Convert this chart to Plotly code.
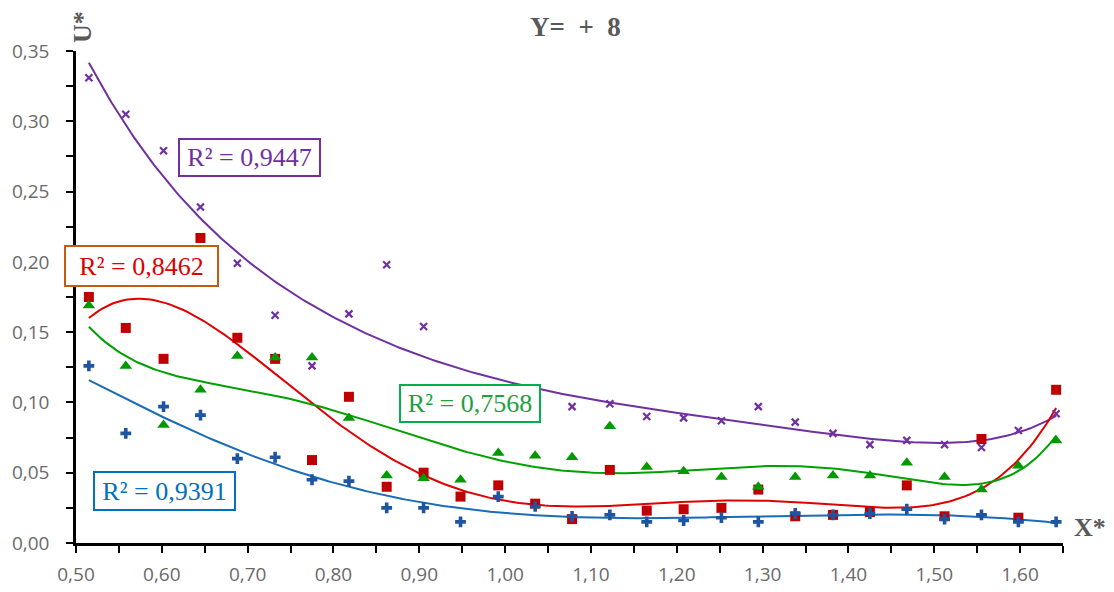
import numpy as np
import plotly.graph_objects as go

x_vals = [0.515, 0.558, 0.602, 0.645, 0.688, 0.732, 0.775, 0.818, 0.862, 0.905,
          0.948, 0.992, 1.035, 1.078, 1.122, 1.165, 1.208, 1.252, 1.295, 1.338,
          1.382, 1.425, 1.468, 1.512, 1.555, 1.598, 1.642]

purple_vals = [0.331, 0.305, 0.279, 0.239, 0.199, 0.162, 0.126, 0.163, 0.198, 0.154,
               0.110, 0.108, 0.104, 0.097, 0.099, 0.090, 0.089, 0.087, 0.097, 0.086,
               0.078, 0.070, 0.073, 0.070, 0.068, 0.080, 0.092]

red_vals = [0.175, 0.153, 0.131, 0.217, 0.146, 0.131, 0.059, 0.104, 0.040, 0.050,
            0.033, 0.041, 0.028, 0.017, 0.052, 0.023, 0.024, 0.025, 0.038, 0.019,
            0.020, 0.022, 0.041, 0.019, 0.074, 0.018, 0.109]

green_vals = [0.169, 0.126, 0.084, 0.109, 0.133, 0.132, 0.132, 0.089, 0.048, 0.046,
              0.045, 0.064, 0.062, 0.061, 0.083, 0.054, 0.051, 0.047, 0.040, 0.047,
              0.048, 0.048, 0.057, 0.047, 0.038, 0.055, 0.073]

blue_vals = [0.126, 0.078, 0.097, 0.091, 0.060, 0.061, 0.045, 0.044, 0.025, 0.025,
             0.015, 0.033, 0.026, 0.019, 0.020, 0.015, 0.016, 0.018, 0.015, 0.021,
             0.020, 0.021, 0.024, 0.017, 0.020, 0.015, 0.015]

r2_labels = ["R² = 0,9447", "R² = 0,8462", "R² = 0,7568", "R² = 0,9391"]

PURPLE = "#7030A0"
RED = "#C00000"
GREEN = "#009A00"
BLUE = "#1F55A0"

fig = go.Figure()

x = np.array(x_vals)
xx = np.linspace(x.min(), x.max(), 300)


def trend(y):
    c = np.polyfit(x - 1.0, np.array(y), 6)
    return np.polyval(c, xx - 1.0)


series = [
    (purple_vals, "#7030A0", dict(symbol="x-thin", size=7, line=dict(width=2.2, color=PURPLE))),
    (red_vals, "#E00000", dict(symbol="square", size=10, color=RED)),
    (green_vals, "#00A000", dict(symbol="triangle-up", size=11, color=GREEN)),
    (blue_vals, "#1A6CB5", dict(symbol="cross", size=9, color=BLUE)),
]

for y, lc, mk in series:
    fig.add_trace(go.Scatter(x=xx, y=trend(y), mode="lines",
                             line=dict(color=lc, width=2), hoverinfo="skip"))
for y, lc, mk in series:
    fig.add_trace(go.Scatter(x=x_vals, y=y, mode="markers", marker=mk))

labels = [
    (r2_labels[0], 0.7018, 0.2744, PURPLE, PURPLE, 143, 39),
    (r2_labels[1], 0.5767, 0.1972, "#DD0000", "#C55A11", 155, 42),
    (r2_labels[2], 0.959, 0.0992, "#1FA040", "#00B050", 142, 39),
    (r2_labels[3], 0.6033, 0.0369, "#0070C0", "#0070C0", 143, 40),
]
for txt, ax_, ay_, tc, bc, w, h in labels:
    fig.add_annotation(x=ax_, y=ay_, xref="x", yref="y", text=txt, showarrow=False,
                       font=dict(family="Liberation Serif", size=26, color=tc),
                       bordercolor=bc, borderwidth=2, borderpad=1, bgcolor="white",
                       width=w - 6, height=h - 6, xanchor="center", yanchor="middle")

W, H = 1114, 592
L, R, T, B = 76, 51, 51, 49
pw, ph = W - L - R, H - T - B


def px_ann(text, px, py, size, angle=0):
    fig.add_annotation(x=(px - L) / pw, y=(H - B - py) / ph, xref="paper", yref="paper",
                       text=text, showarrow=False, textangle=angle,
                       xanchor="center", yanchor="middle",
                       font=dict(family="Liberation Serif", size=size, color="#595959"))


px_ann("<b>Y=\u00a0\u00a0+\u00a0\u00a08</b>", 575, 27, 27)
px_ann("<b>U*</b>", 83, 27, 26, -90)
px_ann("<b>X*</b>", 1090, 527, 26)

fig.update_layout(
    width=W, height=H,
    margin=dict(l=L, r=R, t=T, b=B, autoexpand=False),
    plot_bgcolor="white", paper_bgcolor="white",
    showlegend=False,
    separators=", ",
    font=dict(family="Open Sans", size=19, color="#6A6A6A"),
    xaxis=dict(range=[0.5, 1.65], dtick=0.1, tick0=0.5, tickformat=".2f", automargin=False,
               showgrid=False, zeroline=False, showline=True, linecolor="black", linewidth=2.5,
               ticks="outside", ticklen=7, tickwidth=2, tickcolor="black", ticklabelstandoff=5,
               minor=dict(dtick=0.05, tick0=0.5, ticks="outside", ticklen=7, tickwidth=2, tickcolor="black"),
               tickfont=dict(family="Open Sans", size=19, color="#6A6A6A")),
    yaxis=dict(range=[0, 0.35], dtick=0.05, tick0=0, tickformat=".2f", automargin=False,
               showgrid=False, zeroline=False, showline=True, linecolor="black", linewidth=2.5,
               ticks="outside", ticklen=7, tickwidth=2, tickcolor="black", ticklabelstandoff=13,
               minor=dict(dtick=0.025, tick0=0, ticks="outside", ticklen=7, tickwidth=2, tickcolor="black"),
               tickfont=dict(family="Open Sans", size=19, color="#6A6A6A")),
)

fig.write_html("out.html", config={"displayModeBar": False},
               post_script="document.body.style.margin='0';")
